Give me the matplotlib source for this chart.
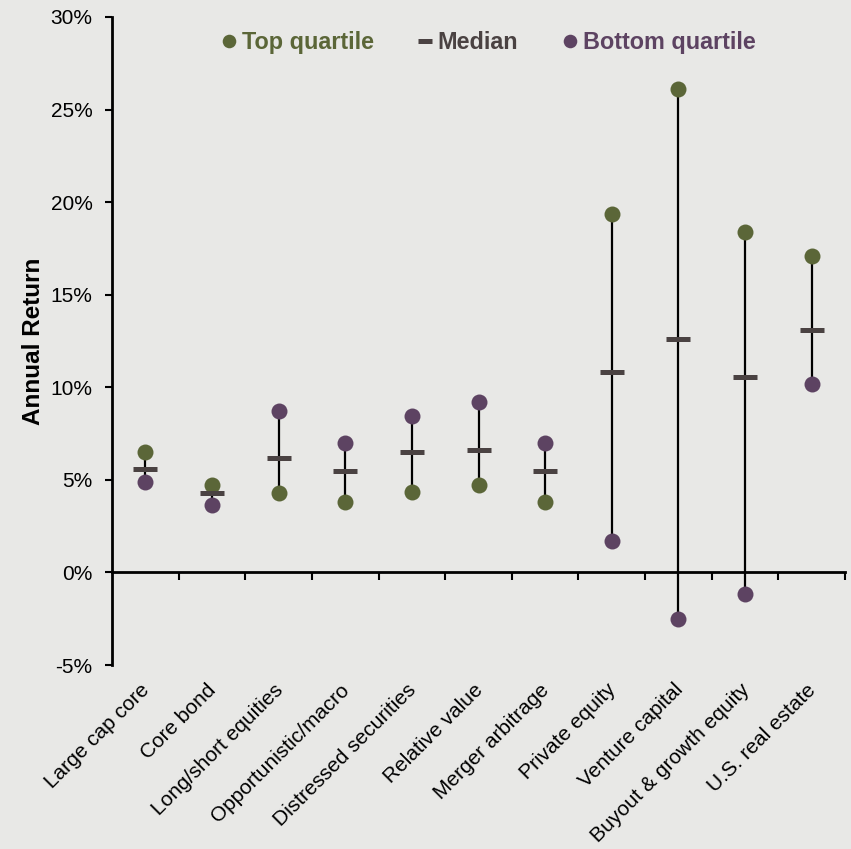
import numpy as np
import matplotlib.pyplot as plt

categories = ["Large cap core", "Core bond", "Long/short equities", "Opportunistic/macro",
              "Distressed securities", "Relative value", "Merger arbitrage", "Private equity",
              "Venture capital", "Buyout & growth equity", "U.S. real estate"]
top_quartile = [6.5, 4.7, 4.3, 3.8, 4.35, 4.7, 3.8, 19.35, 26.1, 18.4, 17.1]
median = [5.6, 4.3, 6.2, 5.5, 6.5, 6.6, 5.5, 10.85, 12.6, 10.55, 13.1]
bottom_quartile = [4.9, 3.65, 8.7, 7.0, 8.45, 9.2, 7.0, 1.7, -2.5, -1.15, 10.2]
yticks = [-5, 0, 5, 10, 15, 20, 25, 30]

green = "#5b6638"
purple = "#5d4362"
dark = "#4a4242"
bg = "#e8e8e6"

plt.rcParams['font.family'] = ['Liberation Sans', 'DejaVu Sans']

fig = plt.figure(figsize=(8.51, 8.49), dpi=100, facecolor=bg)
ax = fig.add_axes([0.1316, 0.2167, 0.8614, 0.7633], facecolor=bg)

x = np.arange(len(categories))
top = np.array(top_quartile)
bot = np.array(bottom_quartile)

ax.vlines(x, np.minimum(top, bot), np.maximum(top, bot), color="black", lw=1.6, zorder=1)
ax.plot(x, top, "o", color=green, ms=11.5, mec="none", zorder=3, label="Top quartile")
ax.plot(x, median, "_", color=dark, ms=17, mew=3.6, zorder=4, label="Median")
ax.plot(x, bot, "o", color=purple, ms=11.5, mec="none", zorder=3, label="Bottom quartile")

ax.set_xlim(-0.5, len(categories) - 0.5)
ax.set_ylim(-5, 30)
ax.set_yticks(yticks)
ax.set_yticklabels([f"{v}%" for v in yticks])
ax.tick_params(axis="y", direction="out", length=5, width=1.5, pad=9, labelsize=15)

# category labels along the bottom, no ticks there
ax.set_xticks(x - 0.08)
ax.set_xticklabels(categories, rotation=45, ha="right", rotation_mode="anchor", fontsize=15)
ax.tick_params(axis="x", length=0, pad=11)

for s in ["top", "right", "bottom"]:
    ax.spines[s].set_visible(False)
ax.spines["left"].set_linewidth(2)

# zero line with boundary ticks
zero_ax = ax.secondary_xaxis(5 / 35)
zero_ax.set_xticks(np.arange(len(categories)) + 0.5)
zero_ax.set_xticklabels([])
zero_ax.tick_params(direction="out", length=6, width=1.5)
zero_ax.spines["bottom"].set_linewidth(2)

ax.set_ylabel("Annual Return", fontsize=17.5, fontweight="bold", labelpad=4)

leg = ax.legend(loc="upper center", bbox_to_anchor=(0.513, 1.01), ncol=3, frameon=False,
                prop={"size": 16.8, "weight": "bold"}, handlelength=0.7, handletextpad=0.2,
                columnspacing=1.85, markerscale=0.85)
leg.legend_handles[1].set_markersize(10)
for t, c in zip(leg.get_texts(), [green, dark, purple]):
    t.set_color(c)

fig.savefig("out.png", dpi=100, facecolor=bg)
